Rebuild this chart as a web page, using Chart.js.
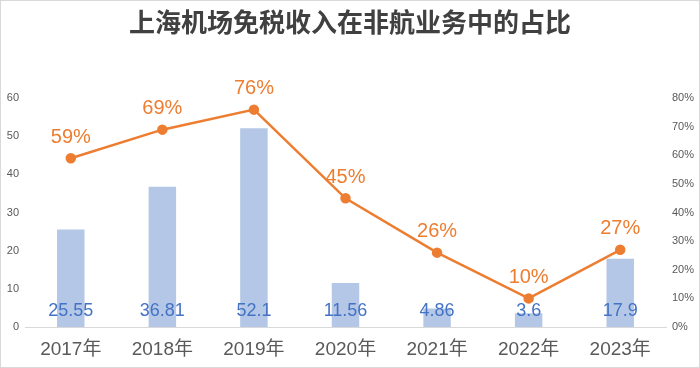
<!DOCTYPE html>
<html>
<head>
<meta charset="utf-8">
<script src="https://cdn.jsdelivr.net/npm/chart.js@4"></script>
<style>
  html, body { margin: 0; padding: 0; background: #fff; }
  #wrap { width: 700px; height: 368px; }
</style>
</head>
<body>
<div id="wrap"><canvas id="myChart" width="700" height="368"></canvas></div>
<script>
// chart data
const years = ['2017年', '2018年', '2019年', '2020年', '2021年', '2022年', '2023年']
const dutyFreeIncome = [25.55, 36.81, 52.1, 11.56, 4.86, 3.6, 17.9]
const shareOfNonAero = [59, 69, 76, 45, 26, 10, 27]
const leftTicks = [0, 10, 20, 30, 40, 50, 60]
const rightTicks = [0, 10, 20, 30, 40, 50, 60, 70, 80]

const FONT = "'Liberation Sans', Arial, 'Noto Sans CJK SC', sans-serif"

// simple value labels + outer frame
const labelPlugin = {
    id: 'labels',
    afterDatasetsDraw(chart) {
        const ctx = chart.ctx
        ctx.save()
        ctx.textAlign = 'center'
        ctx.textBaseline = 'middle'

        const bars = chart.getDatasetMeta(0).data
        ctx.fillStyle = '#4472C4'
        ctx.font = '18px ' + FONT
        bars.forEach((bar, i) => {
            ctx.fillText(String(dutyFreeIncome[i]), bar.x, chart.chartArea.bottom - 16)
        })

        const pts = chart.getDatasetMeta(1).data
        ctx.fillStyle = '#ED7D31'
        ctx.font = '20px ' + FONT
        pts.forEach((pt, i) => {
            ctx.fillText(shareOfNonAero[i] + '%', pt.x, pt.y - 21)
        })

        ctx.strokeStyle = '#d9d9d9'
        ctx.lineWidth = 1
        ctx.strokeRect(0.5, 0.5, chart.width - 1, chart.height - 1)
        ctx.restore()
    }
}

const ctx = document.getElementById('myChart').getContext('2d')

new Chart(ctx, {
    data: {
        labels: years,
        datasets: [{
            type: 'bar',
            label: '免税收入',
            data: dutyFreeIncome,
            yAxisID: 'y',
            backgroundColor: '#B4C7E7',
            categoryPercentage: 1,
            barPercentage: 0.3,
            order: 2
        }, {
            type: 'line',
            label: '占比',
            data: shareOfNonAero,
            yAxisID: 'y1',
            borderColor: '#ED7D31',
            backgroundColor: '#ED7D31',
            borderWidth: 2.5,
            pointRadius: 4,
            pointHoverRadius: 4,
            tension: 0,
            order: 1
        }]
    },
    options: {
        responsive: false,
        animation: false,
        layout: { padding: { top: 0, left: 0, right: 0, bottom: 0 } },
        plugins: {
            legend: { display: false },
            tooltip: { enabled: false },
            title: {
                display: true,
                text: '上海机场免税收入在非航业务中的占比',
                color: '#404040',
                font: { family: "'Noto Sans CJK SC', sans-serif", size: 26, weight: 'bold' },
                padding: { top: 7, bottom: 60 }
            }
        },
        scales: {
            x: {
                afterFit: axis => { axis.height = 41 },
                grid: { display: false, drawTicks: false },
                border: { display: true, color: '#d9d9d9' },
                ticks: {
                    color: '#595959',
                    font: { family: FONT, size: 19, lineHeight: 1 },
                    padding: 13
                }
            },
            y: {
                position: 'left',
                min: 0,
                max: 60,
                afterBuildTicks: axis => { axis.ticks = leftTicks.map(v => ({ value: v })) },
                afterFit: axis => { axis.width = 25 },
                grid: { display: false, drawTicks: false },
                border: { display: false },
                ticks: {
                    color: '#595959',
                    font: { family: FONT, size: 11 },
                    padding: 6
                }
            },
            y1: {
                position: 'right',
                min: 0,
                max: 80,
                afterBuildTicks: axis => { axis.ticks = rightTicks.map(v => ({ value: v })) },
                afterFit: axis => { axis.width = 34 },
                grid: { display: false, drawTicks: false },
                border: { display: false },
                ticks: {
                    color: '#595959',
                    font: { family: FONT, size: 11 },
                    padding: 6,
                    callback: v => v + '%'
                }
            }
        }
    },
    plugins: [labelPlugin]
})
</script>
</body>
</html>
